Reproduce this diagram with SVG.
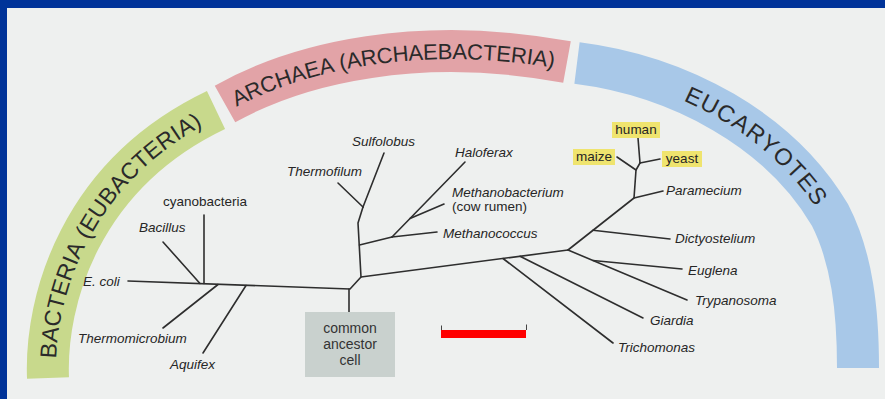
<svg xmlns="http://www.w3.org/2000/svg" width="885" height="399" viewBox="0 0 885 399">
<defs>
<style>
.band{fill:none;stroke-width:42;stroke-linecap:butt}
.bl{font-family:"Liberation Sans",Arial,sans-serif;fill:#2a2a2a;dominant-baseline:central}
.ln{stroke:#2e2e2e;stroke-width:1.6;fill:none;stroke-linecap:round;stroke-linejoin:round}
.sp{font-family:"Liberation Sans",Arial,sans-serif;font-size:13.5px;font-style:italic;fill:#262626}
.up{font-family:"Liberation Sans",Arial,sans-serif;font-size:13.5px;fill:#262626}
.cm{font-family:"Liberation Sans",Arial,sans-serif;font-size:14px;fill:#333;text-anchor:middle}
.hl{fill:#efe46e}
</style>
<path id="pg" d="M48,378 C45,300 80,175 216,110"/>
<path id="pp" d="M225,104 C300,62 420,35 567,62"/>
<path id="pb" d="M577,63 C680,76 780,130 830,215 C852,258 858,310 858,368"/>
</defs>
<rect x="0" y="0" width="885" height="399" fill="#003399"/>
<rect x="7" y="8" width="878" height="391" fill="#eef0ef"/>

<g id="band-bacteria">
<use href="#pg" class="band" stroke="#c8d98c"/>
<text class="bl" font-size="23" textLength="120"><textPath href="#pg" startOffset="20">BACTERIA</textPath></text>
<text class="bl" font-size="23" textLength="169"><textPath href="#pg" startOffset="147">(EUBACTERIA)</textPath></text>
</g>
<g id="band-archaea">
<use href="#pp" class="band" stroke="#e2a3a7"/>
<text class="bl" font-size="22" textLength="107"><textPath href="#pp" startOffset="9">ARCHAEA</textPath></text>
<text class="bl" font-size="22" textLength="217"><textPath href="#pp" startOffset="122">(ARCHAEBACTERIA)</textPath></text>
</g>
<g id="band-eucaryotes">
<use href="#pb" class="band" stroke="#a8c8e8"/>
<text class="bl" font-size="23.5" textLength="176"><textPath href="#pb" startOffset="114">EUCARYOTES</textPath></text>
</g>

<g id="connectors">
<polyline class="ln" points="128,281 350,289 361,277 568,250"/>
<line class="ln" x1="349" y1="289" x2="349" y2="312"/>
<line class="ln" x1="204" y1="215" x2="204" y2="283.5"/>
<line class="ln" x1="163" y1="242" x2="200" y2="283.5"/>
<line class="ln" x1="163" y1="328" x2="218" y2="284.5"/>
<line class="ln" x1="203" y1="353" x2="246" y2="285.5"/>
<polyline class="ln" points="361,277 358,223 363,207"/>
<line class="ln" x1="363" y1="207" x2="338" y2="183"/>
<line class="ln" x1="363" y1="207" x2="384" y2="153"/>
<line class="ln" x1="359.5" y1="245" x2="392" y2="237"/>
<line class="ln" x1="392" y1="237" x2="437" y2="232"/>
<line class="ln" x1="392" y1="237" x2="465" y2="162"/>
<line class="ln" x1="410" y1="218.5" x2="444" y2="204"/>
<polyline class="ln" points="568,250 634,198 636,170 640,163"/>
<line class="ln" x1="634" y1="198" x2="663" y2="191"/>
<line class="ln" x1="636" y1="170" x2="617" y2="157"/>
<line class="ln" x1="640" y1="163" x2="638" y2="138"/>
<line class="ln" x1="640" y1="163" x2="660" y2="159"/>
<line class="ln" x1="593" y1="230.3" x2="670" y2="239"/>
<line class="ln" x1="568" y1="250" x2="687" y2="300"/>
<line class="ln" x1="593" y1="260.5" x2="682" y2="269"/>
<line class="ln" x1="520" y1="256.3" x2="643" y2="318"/>
<line class="ln" x1="503" y1="258.5" x2="613" y2="343"/>
</g>

<g id="node-ancestor">
<rect x="305" y="312" width="90" height="65" fill="#c9d1ce"/>
<text class="cm" x="350" y="333">common</text>
<text class="cm" x="350" y="349">ancestor</text>
<text class="cm" x="350" y="365">cell</text>
</g>
<g id="scale-bar">
<rect x="441" y="330" width="85" height="8" fill="#ff0000"/>
<line x1="441.5" y1="325.5" x2="441.5" y2="330" stroke="#444" stroke-width="1"/>
<line x1="526.5" y1="324.5" x2="526.5" y2="330" stroke="#444" stroke-width="1"/>
</g>

<g id="node-ecoli"><text class="sp" x="83" y="286">E. coli</text></g>
<g id="node-cyanobacteria"><text class="up" x="163" y="206">cyanobacteria</text></g>
<g id="node-bacillus"><text class="sp" x="139" y="232">Bacillus</text></g>
<g id="node-thermomicrobium"><text class="sp" x="78" y="343">Thermomicrobium</text></g>
<g id="node-aquifex"><text class="sp" x="170" y="369">Aquifex</text></g>
<g id="node-thermofilum"><text class="sp" x="287" y="176">Thermofilum</text></g>
<g id="node-sulfolobus"><text class="sp" x="352" y="146">Sulfolobus</text></g>
<g id="node-haloferax"><text class="sp" x="455" y="157">Haloferax</text></g>
<g id="node-methanobacterium"><text class="sp" x="452" y="197">Methanobacterium</text><text class="up" x="452" y="211">(cow rumen)</text></g>
<g id="node-methanococcus"><text class="sp" x="443" y="238">Methanococcus</text></g>
<g id="node-human"><rect class="hl" x="612" y="122" width="48" height="16"/><text class="up" x="636" y="134" text-anchor="middle">human</text></g>
<g id="node-maize"><rect class="hl" x="573" y="149" width="42" height="16"/><text class="up" x="594" y="161" text-anchor="middle">maize</text></g>
<g id="node-yeast"><rect class="hl" x="662" y="151" width="40" height="16"/><text class="up" x="682" y="163" text-anchor="middle">yeast</text></g>
<g id="node-paramecium"><text class="sp" x="666" y="195">Paramecium</text></g>
<g id="node-dictyostelium"><text class="sp" x="675" y="243">Dictyostelium</text></g>
<g id="node-euglena"><text class="sp" x="688" y="275">Euglena</text></g>
<g id="node-trypanosoma"><text class="sp" x="695" y="305">Trypanosoma</text></g>
<g id="node-giardia"><text class="sp" x="650" y="325">Giardia</text></g>
<g id="node-trichomonas"><text class="sp" x="618" y="352">Trichomonas</text></g>
</svg>
